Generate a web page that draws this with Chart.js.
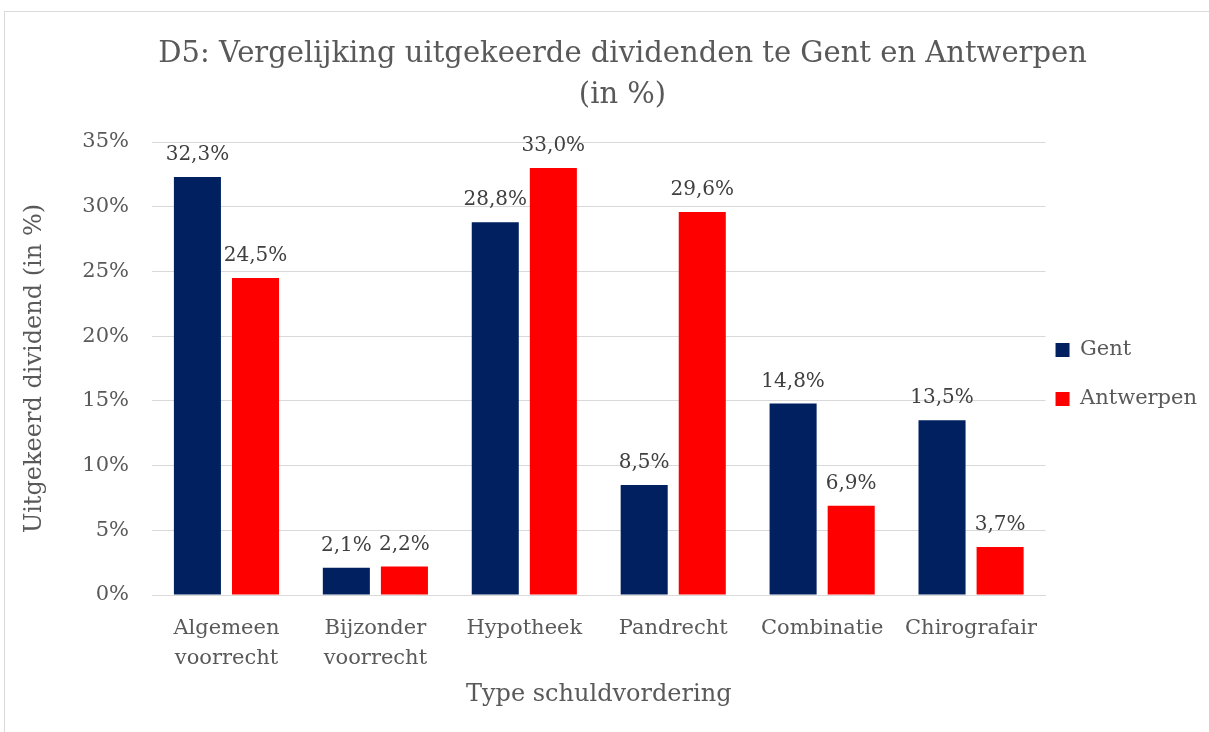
<!DOCTYPE html>
<html><head><meta charset="utf-8">
<script src="https://cdn.jsdelivr.net/npm/chart.js@4.4.1/dist/chart.umd.min.js"></script>
<style>
html,body{margin:0;padding:0;background:#fff;}
#wrap{position:relative;width:1209px;height:732px;overflow:hidden;}
#frame{position:absolute;left:4px;top:11px;width:1300px;height:800px;border:1px solid #d9d9d9;box-sizing:border-box;}
canvas{position:absolute;left:0;top:0;}
</style></head>
<body>
<div id="wrap"><div id="frame"></div><canvas id="c" width="1209" height="732"></canvas></div>
<script>
const categories = [["Algemeen","voorrecht"],["Bijzonder","voorrecht"],"Hypotheek","Pandrecht","Combinatie","Chirografair"];
const gent = [32.3, 2.1, 28.8, 8.5, 14.8, 13.5];
const antwerpen = [24.5, 2.2, 33.0, 29.6, 6.9, 3.7];
const seriesNames = ["Gent","Antwerpen"];
const titleLines = ["D5: Vergelijking uitgekeerde dividenden te Gent en Antwerpen","(in %)"];
const yTitle = "Uitgekeerd dividend (in %)";
const xTitle = "Type schuldvordering";

const FONT = "'DejaVu Serif', serif";
const fmt = v => v.toFixed(1).replace('.', ',') + '%';

const labelPlugin = {
  id: 'valLabels',
  afterDatasetsDraw(chart) {
    const ctx = chart.ctx;
    ctx.save();
    ctx.font = "20px " + FONT;
    ctx.fillStyle = '#404040';
    ctx.textAlign = 'center';
    ctx.textBaseline = 'middle';
    chart.data.datasets.forEach((ds, di) => {
      chart.getDatasetMeta(di).data.forEach((bar, i) => {
        ctx.fillText(fmt(ds.data[i]), bar.x, bar.y - 22);
      });
    });
    ctx.restore();
  }
};

const legendNudge = {
  id: 'legendNudge',
  afterLayout(chart) {
    const lg = chart.legend;
    if (!lg) return;
    lg.left -= 18; lg.right -= 18;
    lg.top += 6; lg.bottom += 6;
  }
};

new Chart(document.getElementById('c'), {
  type: 'bar',
  data: {
    labels: categories,
    datasets: [
      {label: seriesNames[0], data: gent, backgroundColor: '#002060', borderWidth: 0,
       categoryPercentage: 0.78, barPercentage: 0.81},
      {label: seriesNames[1], data: antwerpen, backgroundColor: '#FF0000', borderWidth: 0,
       categoryPercentage: 0.78, barPercentage: 0.81}
    ]
  },
  options: {
    responsive: false,
    animation: false,
    devicePixelRatio: 1,
    layout: {padding: {left: 20, right: -16, top: 0, bottom: 7}},
    plugins: {
      title: {display: true, text: titleLines, color: '#595959',
        font: {family: FONT, size: 29, weight: 'normal', lineHeight: 1.414},
        padding: {top: 34, bottom: 26}},
      legend: {position: 'right', fullSize: false,
        labels: {color: '#595959', font: {family: FONT, size: 21}, boxWidth: 14, boxHeight: 14, padding: 28}},
      tooltip: {enabled: false}
    },
    scales: {
      x: {
        grid: {display: false, drawTicks: false},
        border: {display: true, color: '#d9d9d9', width: 1},
        ticks: {color: '#595959', font: {family: FONT, size: 21, lineHeight: 1.43}, padding: 19, maxRotation: 0, autoSkip: false},
        title: {display: true, text: xTitle, color: '#595959', font: {family: FONT, size: 24}, padding: {top: 16, bottom: 16}},
        afterFit(scale) { scale.height = 130; }
      },
      y: {
        min: 0, max: 35,
        grid: {color: '#d9d9d9', drawTicks: false},
        border: {display: false},
        ticks: {stepSize: 5, color: '#595959', font: {family: FONT, size: 21}, padding: 23, callback: v => v + '%'},
        title: {display: true, text: yTitle, color: '#595959', font: {family: FONT, size: 24}, padding: {top: 0, bottom: 10}},
        afterFit(scale) { scale.width = 132; }
      }
    }
  },
  plugins: [labelPlugin, legendNudge]
});
</script>
</body></html>
